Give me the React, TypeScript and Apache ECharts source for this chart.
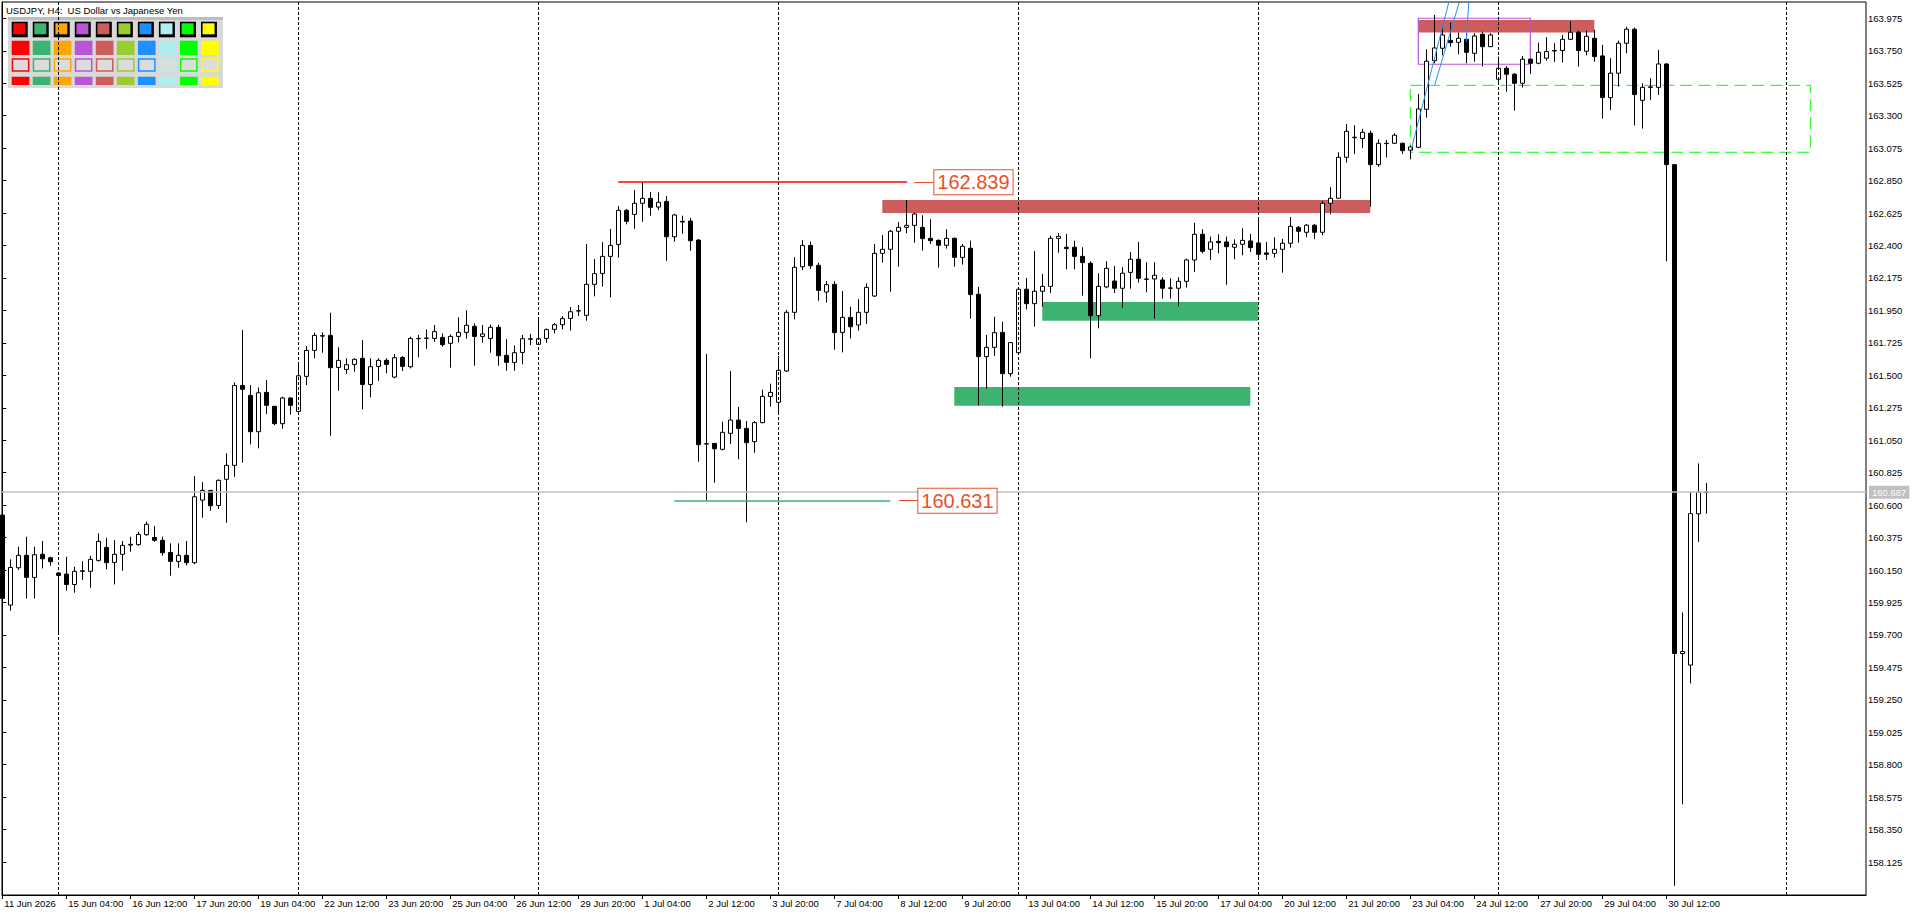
import { useEffect, useRef } from 'react';
import * as echarts from 'echarts';

const FONT = '"Liberation Sans", Arial, sans-serif';

const chartTitle = 'USDJPY, H4:  US Dollar vs Japanese Yen';

// one label every 8 bars
const timeLabels = [
  '11 Jun 2026', '15 Jun 04:00', '16 Jun 12:00', '17 Jun 20:00', '19 Jun 04:00', '22 Jun 12:00',
  '23 Jun 20:00', '25 Jun 04:00', '26 Jun 12:00', '29 Jun 20:00', '1 Jul 04:00', '2 Jul 12:00',
  '3 Jul 20:00', '7 Jul 04:00', '8 Jul 12:00', '9 Jul 20:00', '13 Jul 04:00', '14 Jul 12:00',
  '15 Jul 20:00', '17 Jul 04:00', '20 Jul 12:00', '21 Jul 20:00', '23 Jul 04:00', '24 Jul 12:00',
  '27 Jul 20:00', '29 Jul 04:00', '30 Jul 12:00'
];

const priceTicks = [
  163.975, 163.75, 163.525, 163.3, 163.075, 162.85, 162.625, 162.4, 162.175, 161.95, 161.725,
  161.5, 161.275, 161.05, 160.825, 160.6, 160.375, 160.15, 159.925, 159.7, 159.475, 159.25,
  159.025, 158.8, 158.575, 158.35, 158.125
];

// [open, close, low, high]
const ohlc = [
  [160.531, 159.953, 159.919, 160.543], [159.907, 160.168, 159.868, 160.224], [160.166, 160.252, 160.15, 160.312],
  [160.252, 160.099, 159.953, 160.381], [160.099, 160.256, 159.953, 160.312], [160.259, 160.228, 160.161, 160.351],
  [160.235, 160.208, 160.18, 160.242], [160.129, 160.113, 159.704, 160.131], [160.122, 160.05, 160.007, 160.242],
  [160.05, 160.141, 159.993, 160.173], [160.141, 160.145, 160.081, 160.212], [160.141, 160.224, 160.027, 160.249],
  [160.217, 160.349, 160.208, 160.404], [160.307, 160.201, 160.155, 160.374], [160.203, 160.259, 160.05, 160.358],
  [160.259, 160.321, 160.145, 160.351], [160.323, 160.328, 160.277, 160.381], [160.326, 160.397, 160.319, 160.416],
  [160.395, 160.467, 160.388, 160.485], [160.376, 160.356, 160.346, 160.455], [160.356, 160.27, 160.249, 160.381],
  [160.272, 160.21, 160.111, 160.335], [160.21, 160.252, 160.166, 160.335], [160.252, 160.201, 160.182, 160.351],
  [160.201, 160.658, 160.191, 160.802], [160.635, 160.702, 160.513, 160.76], [160.702, 160.596, 160.561, 160.705],
  [160.598, 160.772, 160.573, 160.779], [160.779, 160.876, 160.478, 160.959], [160.876, 161.43, 160.797, 161.451],
  [161.43, 161.403, 160.894, 161.814], [161.361, 161.109, 161.021, 161.433], [161.109, 161.379, 160.994, 161.416],
  [161.382, 161.292, 161.232, 161.467], [161.285, 161.165, 161.155, 161.289], [161.165, 161.343, 161.13, 161.352],
  [161.343, 161.292, 161.227, 161.347], [161.25, 161.497, 161.248, 161.588], [161.493, 161.673, 161.433, 161.703],
  [161.673, 161.777, 161.618, 161.796], [161.772, 161.775, 161.657, 161.798], [161.777, 161.553, 161.081, 161.934],
  [161.555, 161.604, 161.393, 161.694], [161.541, 161.574, 161.511, 161.618], [161.576, 161.611, 161.525, 161.618],
  [161.618, 161.437, 161.264, 161.745], [161.437, 161.56, 161.347, 161.618], [161.562, 161.604, 161.463, 161.618],
  [161.604, 161.576, 161.514, 161.618], [161.488, 161.622, 161.479, 161.648], [161.624, 161.562, 161.53, 161.634],
  [161.56, 161.756, 161.548, 161.768], [161.754, 161.756, 161.624, 161.779], [161.756, 161.759, 161.685, 161.819],
  [161.756, 161.803, 161.733, 161.849], [161.763, 161.713, 161.699, 161.791], [161.722, 161.77, 161.553, 161.784],
  [161.77, 161.798, 161.729, 161.902], [161.798, 161.847, 161.754, 161.951], [161.84, 161.77, 161.567, 161.861],
  [161.77, 161.787, 161.726, 161.849], [161.756, 161.833, 161.657, 161.851], [161.833, 161.636, 161.567, 161.851],
  [161.639, 161.59, 161.532, 161.75], [161.59, 161.657, 161.532, 161.708], [161.659, 161.754, 161.576, 161.78],
  [161.75, 161.754, 161.71, 161.787], [161.715, 161.754, 161.71, 161.884], [161.756, 161.817, 161.726, 161.826],
  [161.819, 161.851, 161.791, 161.863], [161.851, 161.893, 161.819, 161.911], [161.895, 161.941, 161.81, 161.974],
  [161.946, 161.948, 161.911, 161.988], [161.916, 162.131, 161.879, 162.411], [162.131, 162.205, 162.048, 162.307],
  [162.207, 162.325, 162.115, 162.424], [162.325, 162.401, 162.041, 162.515], [162.408, 162.644, 162.316, 162.674],
  [162.644, 162.568, 162.547, 162.653], [162.616, 162.693, 162.517, 162.785], [162.693, 162.727, 162.565, 162.839],
  [162.727, 162.665, 162.607, 162.771], [162.667, 162.7, 162.646, 162.769], [162.706, 162.461, 162.295, 162.743],
  [162.461, 162.612, 162.427, 162.621], [162.568, 162.563, 162.482, 162.607], [162.57, 162.434, 162.364, 162.591],
  [162.438, 161.019, 160.901, 162.445], [161.026, 161.024, 160.631, 161.648], [161.028, 160.991, 160.756, 161.031],
  [160.987, 161.105, 160.98, 161.179], [161.098, 161.19, 161.024, 161.53], [161.19, 161.132, 160.918, 161.28],
  [161.132, 161.033, 160.481, 161.183], [161.04, 161.172, 160.964, 161.183], [161.172, 161.354, 161.167, 161.401],
  [161.354, 161.382, 161.283, 161.442], [161.313, 161.535, 161.243, 161.634], [161.53, 161.937, 161.523, 161.953],
  [161.937, 162.249, 161.888, 162.32], [162.253, 162.401, 162.23, 162.438], [162.401, 162.26, 162.237, 162.427],
  [162.263, 162.089, 162.018, 162.281], [162.078, 162.129, 162.004, 162.154], [162.131, 161.796, 161.678, 162.154],
  [161.798, 161.902, 161.659, 162.085], [161.902, 161.837, 161.756, 161.976], [161.849, 161.937, 161.81, 162.027],
  [161.937, 162.11, 161.856, 162.138], [162.05, 162.346, 162.043, 162.411], [162.346, 162.374, 162.282, 162.473],
  [162.374, 162.499, 162.08, 162.508], [162.499, 162.526, 162.254, 162.563], [162.526, 162.54, 162.485, 162.716],
  [162.54, 162.619, 162.42, 162.628], [162.526, 162.448, 162.365, 162.61], [162.45, 162.434, 162.411, 162.582],
  [162.436, 162.402, 162.247, 162.443], [162.402, 162.45, 162.379, 162.513], [162.45, 162.318, 162.254, 162.455],
  [162.318, 162.395, 162.268, 162.411], [162.381, 162.06, 161.893, 162.434], [162.062, 161.63, 161.292, 162.113],
  [161.63, 161.694, 161.408, 161.78], [161.694, 161.796, 161.634, 161.907], [161.798, 161.512, 161.283, 161.872],
  [161.512, 161.727, 161.491, 161.731], [161.657, 162.097, 161.653, 162.101], [162.097, 161.997, 161.956, 162.175],
  [161.997, 162.083, 161.838, 162.362], [162.083, 162.117, 161.976, 162.203], [162.117, 162.45, 162.071, 162.469],
  [162.45, 162.464, 162.351, 162.487], [162.388, 162.379, 162.235, 162.48], [162.388, 162.325, 162.235, 162.434],
  [162.325, 162.282, 162.053, 162.388], [162.277, 161.914, 161.618, 162.291], [161.914, 162.117, 161.826, 162.208],
  [162.113, 162.242, 162.104, 162.291], [162.154, 162.104, 162.071, 162.258], [162.104, 162.208, 161.969, 162.249],
  [162.214, 162.305, 162.101, 162.355], [162.305, 162.173, 162.143, 162.425], [162.168, 162.166, 162.076, 162.284],
  [162.168, 162.194, 161.893, 162.284], [162.161, 162.104, 162.032, 162.18], [162.106, 162.104, 162.032, 162.173],
  [162.104, 162.152, 161.979, 162.18], [162.152, 162.3, 162.108, 162.309], [162.3, 162.478, 162.217, 162.557],
  [162.478, 162.36, 162.346, 162.513], [162.374, 162.425, 162.3, 162.462], [162.429, 162.42, 162.346, 162.478],
  [162.425, 162.392, 162.129, 162.462], [162.388, 162.409, 162.305, 162.443], [162.409, 162.436, 162.332, 162.52],
  [162.432, 162.386, 162.355, 162.48], [162.418, 162.339, 162.3, 162.582], [162.349, 162.339, 162.3, 162.425],
  [162.346, 162.374, 162.316, 162.457], [162.374, 162.416, 162.212, 162.446], [162.416, 162.533, 162.385, 162.598],
  [162.526, 162.499, 162.42, 162.536], [162.492, 162.541, 162.457, 162.55], [162.541, 162.492, 162.444, 162.55],
  [162.492, 162.693, 162.471, 162.709], [162.693, 162.728, 162.617, 162.804], [162.728, 163.012, 162.723, 163.047],
  [163.012, 163.192, 162.975, 163.243], [163.148, 163.151, 163.035, 163.234], [163.142, 163.185, 163.075, 163.209],
  [163.179, 162.961, 162.67, 163.197], [162.961, 163.109, 162.947, 163.137], [163.107, 163.109, 163.01, 163.132],
  [163.109, 163.165, 163.105, 163.179], [163.109, 163.058, 163.035, 163.114], [163.061, 163.084, 162.998, 163.093],
  [163.081, 163.347, 163.075, 163.451], [163.345, 163.678, 163.287, 163.761], [163.682, 163.77, 163.664, 163.999],
  [163.768, 163.86, 163.719, 163.918], [163.823, 163.807, 163.779, 163.946], [163.809, 163.837, 163.726, 163.877],
  [163.83, 163.74, 163.664, 163.872], [163.733, 163.853, 163.675, 163.872], [163.865, 163.779, 163.641, 163.883],
  [163.779, 163.86, 163.777, 163.872], [163.553, 163.629, 163.525, 163.71], [163.629, 163.588, 163.467, 163.645],
  [163.588, 163.525, 163.336, 163.595], [163.525, 163.692, 163.495, 163.715], [163.692, 163.664, 163.59, 163.699],
  [163.664, 163.74, 163.657, 163.807], [163.699, 163.745, 163.682, 163.844], [163.752, 163.749, 163.673, 163.803],
  [163.752, 163.83, 163.669, 163.86], [163.83, 163.879, 163.826, 163.955], [163.879, 163.752, 163.641, 163.89],
  [163.747, 163.851, 163.719, 163.89], [163.837, 163.71, 163.675, 163.895], [163.715, 163.426, 163.28, 163.791],
  [163.426, 163.595, 163.34, 163.699], [163.595, 163.803, 163.502, 163.821], [163.803, 163.9, 163.733, 163.918],
  [163.9, 163.447, 163.232, 163.911], [163.407, 163.497, 163.211, 163.525], [163.497, 163.5, 163.41, 163.56],
  [163.497, 163.659, 163.444, 163.756], [163.659, 162.961, 162.291, 163.664], [162.961, 159.571, 157.961, 162.961],
  [159.571, 159.585, 158.525, 159.856], [159.491, 160.541, 159.364, 160.694], [160.54, 160.69, 160.345, 160.889],
  [160.69, 160.687, 160.541, 160.754]
];

const lastPrice = 160.687;

// bar index of each weekly separator
const weekSeparators = [7, 37, 67, 97, 127, 157, 187, 223];

// [from bar, to bar, price]
const highLevel = [77, 113.1, 162.839];
const lowLevel = [84, 111, 160.631];

// [from bar, to bar, low, high]
const supplyZones = [[110, 171, 162.626, 162.716], [177, 199, 163.877, 163.964]];
const demandZones = [[130, 157, 161.879, 162.009], [119, 156, 161.29, 161.419]];
const rangeBox = [177, 191, 163.657, 163.976];
const breakoutBox = [176, 226, 163.047, 163.511];

// [bar, price, bar, price]
const trendLines = [
  [176.1, 163.062, 180.8, 164.084],
  [179.05, 163.513, 182.1, 164.084],
  [183.0, 163.813, 183.3, 164.084]
];

const paletteColors = [
  '#FF0000', '#3CB371', '#FFA500', '#BA55D3', '#CD5C5C',
  '#9ACD32', '#1E90FF', '#AFEEEE', '#00FF00', '#FFFF00'
];

const LABEL_RED = '#E8502A';

const levelLabel = (text: string) => ({
  show: true,
  position: 'end',
  distance: 0,
  formatter: text,
  color: LABEL_RED,
  fontFamily: FONT,
  fontSize: 20,
  lineHeight: 22,
  backgroundColor: '#ffffff',
  borderColor: LABEL_RED,
  borderWidth: 1,
  padding: [1, 3, 1, 3]
});

const paletteGraphic = () => {
  const els: any[] = [
    { type: 'rect', shape: { x: 8, y: 17, width: 215, height: 71 }, style: { fill: '#d9d9d9' } },
    { type: 'rect', shape: { x: 8, y: 17, width: 215, height: 3 }, style: { fill: '#bdbdbd' } }
  ];
  paletteColors.forEach((c, i) => {
    const x = 11.7 + i * 21.03;
    els.push(
      { type: 'rect', shape: { x, y: 21.7, width: 16, height: 15.6 }, style: { fill: '#000' } },
      { type: 'rect', shape: { x: x + 1.6, y: 23.3, width: 12, height: 11 }, style: { fill: c } },
      { type: 'rect', shape: { x, y: 40.7, width: 17.7, height: 14.3 }, style: { fill: c } },
      { type: 'rect', shape: { x: x + 0.75, y: 59, width: 16.2, height: 12 }, style: { fill: '#dcdcdc', stroke: c, lineWidth: 1.5 } },
      { type: 'rect', shape: { x, y: 76.7, width: 17.7, height: 8.3 }, style: { fill: c } }
    );
  });
  return els;
};

const App = () => {
  const chartRef = useRef<HTMLDivElement>(null);

  useEffect(() => {
    if (!chartRef.current) return;
    const myChart = echarts.init(chartRef.current, null, { renderer: 'svg' });

    const timeTicks = timeLabels.map((_, k) => k * 8);

    const option = {
      animation: false,
      backgroundColor: '#ffffff',
      textStyle: { fontFamily: FONT },
      grid: {
        left: 2,
        top: 2,
        right: 54,
        bottom: 20,
        show: true,
        borderColor: '#000',
        borderWidth: 1
      },
      xAxis: {
        type: 'value',
        min: -0.0375,
        max: 232.9625,
        axisLine: { show: true, onZero: false, lineStyle: { color: '#000' } },
        axisTick: { show: true, customValues: timeTicks, length: 4, lineStyle: { color: '#000' } },
        axisLabel: {
          customValues: timeTicks,
          formatter: (v: number) => timeLabels[Math.round(v / 8)] || '',
          align: 'left',
          margin: 3,
          padding: [0, 0, 0, 2],
          color: '#000',
          fontSize: 9.5,
          fontFamily: FONT
        },
        splitLine: { show: false }
      },
      yAxis: {
        type: 'value',
        position: 'right',
        min: 157.8968,
        max: 164.0887,
        axisLine: { show: true, lineStyle: { color: '#000' } },
        axisTick: { show: true, customValues: priceTicks, length: 4, lineStyle: { color: '#000' } },
        axisLabel: {
          customValues: priceTicks,
          formatter: (v: number) => v.toFixed(3),
          margin: 2,
          color: '#000',
          fontSize: 9.5,
          fontFamily: FONT
        },
        splitLine: { show: false }
      },
      graphic: [
        {
          type: 'text',
          x: 6,
          y: 5,
          style: { text: chartTitle, fill: '#000', fontSize: 9.5, fontFamily: FONT, verticalAlign: 'top' }
        },
        ...paletteGraphic()
      ],
      series: [
        {
          type: 'candlestick',
          data: ohlc.map((d, i) => [i, d[0], d[1], d[2], d[3]]),
          barWidth: 4,
          itemStyle: {
            color: '#ffffff',
            color0: '#000000',
            borderColor: '#000000',
            borderColor0: '#000000',
            borderColorDoji: '#000000',
            borderWidth: 1
          },
          markArea: {
            silent: true,
            label: { show: false },
            data: [
              ...supplyZones.map((z) => [
                { coord: [z[0], z[3]], itemStyle: { color: '#CD5C5C', opacity: 1 } },
                { coord: [z[1], z[2]] }
              ]),
              ...demandZones.map((z) => [
                { coord: [z[0], z[3]], itemStyle: { color: '#3CB371', opacity: 1 } },
                { coord: [z[1], z[2]] }
              ]),
              [
                { coord: [rangeBox[0], rangeBox[3]], itemStyle: { color: 'rgba(0,0,0,0)', borderColor: '#BA55D3', borderWidth: 1.2 } },
                { coord: [rangeBox[1], rangeBox[2]] }
              ],
              [
                { coord: [breakoutBox[0], breakoutBox[3]], itemStyle: { color: 'rgba(0,0,0,0)', borderColor: '#00FF00', borderWidth: 1, borderType: [12, 6] } },
                { coord: [breakoutBox[1], breakoutBox[2]] }
              ]
            ]
          },
          markLine: {
            silent: true,
            symbol: ['none', 'none'],
            label: { show: false },
            data: [
              ...weekSeparators.map((b) => ({
                xAxis: b,
                lineStyle: { color: '#000', width: 1, type: [3, 2] }
              })),
              {
                yAxis: lastPrice,
                lineStyle: { color: '#c0c0c0', width: 1.5, type: 'solid' },
                label: {
                  show: true,
                  position: 'end',
                  distance: 3,
                  formatter: lastPrice.toFixed(3),
                  color: '#ffffff',
                  backgroundColor: '#c0c0c0',
                  padding: [2, 3, 1, 3],
                  fontSize: 9.5,
                  fontFamily: FONT
                }
              },
              [
                { coord: [highLevel[0], highLevel[2]], lineStyle: { color: '#FF0000', width: 1.5, type: 'solid' } },
                { coord: [highLevel[1], highLevel[2]] }
              ],
              [
                { coord: [highLevel[1] + 0.9, highLevel[2]], lineStyle: { color: LABEL_RED, width: 1, type: 'solid' }, label: levelLabel(highLevel[2].toFixed(3)) },
                { coord: [highLevel[1] + 3.4, highLevel[2]] }
              ],
              [
                { coord: [lowLevel[0], lowLevel[2]], lineStyle: { color: '#3CB371', width: 1.5, type: 'solid' } },
                { coord: [lowLevel[1], lowLevel[2]] }
              ],
              [
                { coord: [lowLevel[1] + 1.1, lowLevel[2]], lineStyle: { color: LABEL_RED, width: 1, type: 'solid' }, label: levelLabel(lowLevel[2].toFixed(3)) },
                { coord: [lowLevel[1] + 3.5, lowLevel[2]] }
              ],
              ...trendLines.map((t) => [
                { coord: [t[0], t[1]], lineStyle: { color: '#1E90FF', width: 1, type: 'solid' } },
                { coord: [t[2], t[3]] }
              ])
            ]
          }
        }
      ]
    };

    myChart.setOption(option as any);

    return () => {
      myChart.dispose();
    };
  }, []);

  return (
    <div
      ref={chartRef}
      style={{ position: 'fixed', left: 0, top: 0, width: 1920, height: 915, background: '#fff' }}
    />
  );
};

export default App;
